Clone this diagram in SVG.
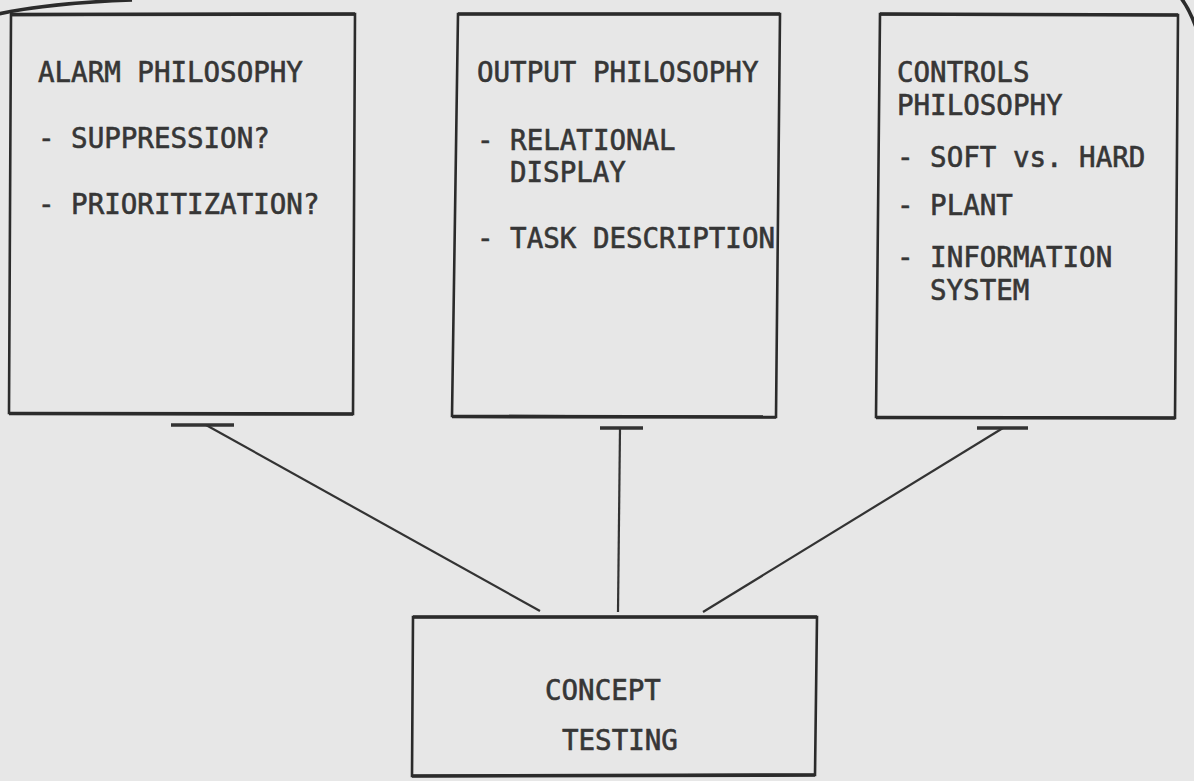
<svg xmlns="http://www.w3.org/2000/svg" width="1194" height="781" viewBox="0 0 1194 781">
  <style>
    .box { fill: none; stroke: #2b2b2b; stroke-width: 2.6; stroke-linejoin: miter; }
    .edge { fill: none; stroke: #2b2b2b; stroke-width: 3.6; }
    .lbl { font-family: "DejaVu Sans Mono", "Liberation Mono", monospace; font-size: 27.5px; fill: #363636; stroke: #363636; stroke-width: 0.6; }
    .conn { fill: none; stroke: #333333; stroke-width: 2.2; }
    .bar { fill: none; stroke: #333333; stroke-width: 3.4; }
  </style>
  <rect x="0" y="0" width="1194" height="781" fill="#e7e7e7"/>

  <!-- stray curves at the sheet corners -->
  <path class="edge" d="M -2,14 Q 50,3 132,0"/>
  <path class="edge" d="M 1181,-2 Q 1190,10 1197,30"/>

  <g id="alarm-philosophy">
    <polygon class="box" points="11,15 355,14 353,414 9,413"/>
    <line class="edge" x1="10" y1="14.5" x2="355" y2="14"/>
    <line class="edge" x1="9" y1="413.5" x2="353" y2="414"/>
    <text class="lbl" x="38" y="82">ALARM PHILOSOPHY</text>
    <text class="lbl" x="38" y="148">- SUPPRESSION?</text>
    <text class="lbl" x="38" y="214">- PRIORITIZATION?</text>
  </g>

  <g id="output-philosophy">
    <polygon class="box" points="458,14 780,14 776,417 452,416"/>
    <line class="edge" x1="458" y1="14" x2="780" y2="14"/>
    <line class="edge" x1="452" y1="416.5" x2="776" y2="417"/>
    <text class="lbl" x="477" y="82">OUTPUT PHILOSOPHY</text>
    <text class="lbl" x="477" y="150">- RELATIONAL</text>
    <text class="lbl" x="510" y="182">DISPLAY</text>
    <text class="lbl" x="477" y="248">- TASK DESCRIPTION</text>
  </g>

  <g id="controls-philosophy">
    <polygon class="box" points="880,14 1178,15 1175,418 876,417"/>
    <line class="edge" x1="880" y1="14" x2="1178" y2="15"/>
    <line class="edge" x1="876" y1="417.5" x2="1175" y2="418"/>
    <text class="lbl" x="897" y="82">CONTROLS</text>
    <text class="lbl" x="897" y="115">PHILOSOPHY</text>
    <text class="lbl" x="897" y="167">- SOFT vs. HARD</text>
    <text class="lbl" x="897" y="215">- PLANT</text>
    <text class="lbl" x="897" y="267">- INFORMATION</text>
    <text class="lbl" x="930" y="300">SYSTEM</text>
  </g>

  <g id="concept-testing">
    <polygon class="box" points="413,617 817,617 815,775 412,776"/>
    <line class="edge" x1="413" y1="617" x2="817" y2="617"/>
    <line class="edge" x1="412" y1="776" x2="815" y2="775"/>
    <text class="lbl" x="545" y="700">CONCEPT</text>
    <text class="lbl" x="562" y="750">TESTING</text>
  </g>

  <g id="connectors">
    <line class="bar" x1="171" y1="425" x2="234" y2="425"/>
    <line class="conn" x1="206" y1="425" x2="540" y2="611"/>
    <line class="bar" x1="600" y1="428" x2="643" y2="428"/>
    <line class="conn" x1="620" y1="428" x2="618" y2="612"/>
    <line class="bar" x1="977" y1="428" x2="1028" y2="428"/>
    <line class="conn" x1="1003" y1="428" x2="703" y2="612"/>
  </g>
</svg>
